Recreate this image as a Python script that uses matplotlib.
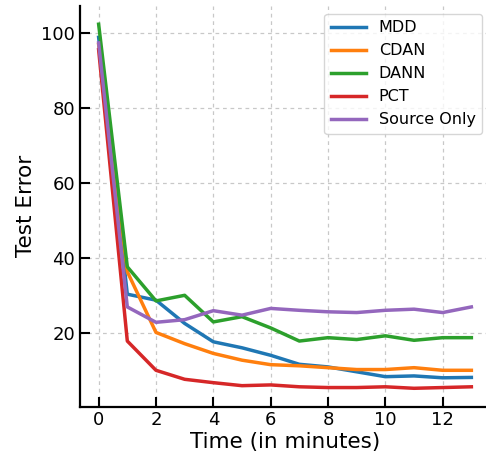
import matplotlib
matplotlib.use("Agg")
import matplotlib.pyplot as plt

time = list(range(14))
mdd = [98.9, 30.4, 28.8, 22.6, 17.7, 16.1, 14.1, 11.7, 11.0, 9.7, 8.4, 8.6, 8.1, 8.2]
cdan = [97.0, 36.4, 20.2, 17.2, 14.6, 12.8, 11.6, 11.3, 10.8, 10.3, 10.3, 10.8, 10.1, 10.1]
dann = [102.4, 37.7, 28.6, 30.1, 23.0, 24.4, 21.4, 17.9, 18.8, 18.3, 19.3, 18.1, 18.8, 18.8]
pct = [95.6, 17.9, 10.1, 7.7, 6.8, 6.0, 6.2, 5.7, 5.5, 5.5, 5.7, 5.3, 5.5, 5.7]
source_only = [97.4, 27.0, 22.9, 23.6, 26.0, 24.8, 26.6, 26.1, 25.7, 25.5, 26.1, 26.4, 25.5, 27.0]

series = [("MDD", mdd, "#1f77b4"), ("CDAN", cdan, "#ff7f0e"), ("DANN", dann, "#2ca02c"),
          ("PCT", pct, "#d62728"), ("Source Only", source_only, "#9467bd")]

fig = plt.figure(figsize=(4.86, 4.58), dpi=100)
ax = fig.add_axes([80/486, 1 - 406.5/458, (490-80)/486, (406.5-6)/458])
for name, vals, c in series:
    ax.plot(time, vals, color=c, lw=2.5, label=name)

ax.grid(True, ls=(0, (3, 3)), color="#c8c8c8", lw=0.9)
ax.set_axisbelow(True)
for s in ["top", "right"]:
    ax.spines[s].set_visible(False)
for s in ["left", "bottom"]:
    ax.spines[s].set_linewidth(1.6)
ax.tick_params(direction="in", length=7, width=1.5, labelsize=13)
ax.set_xticks([0, 2, 4, 6, 8, 10, 12])
ax.set_yticks([20, 40, 60, 80, 100])
ax.set_xlabel("Time (in minutes)", fontsize=15.5, labelpad=2)
ax.set_ylabel("Test Error", fontsize=15.5)
leg = ax.legend(loc="upper right", fontsize=11.5, handlelength=2.2)
fig.savefig("out.png", dpi=100)
